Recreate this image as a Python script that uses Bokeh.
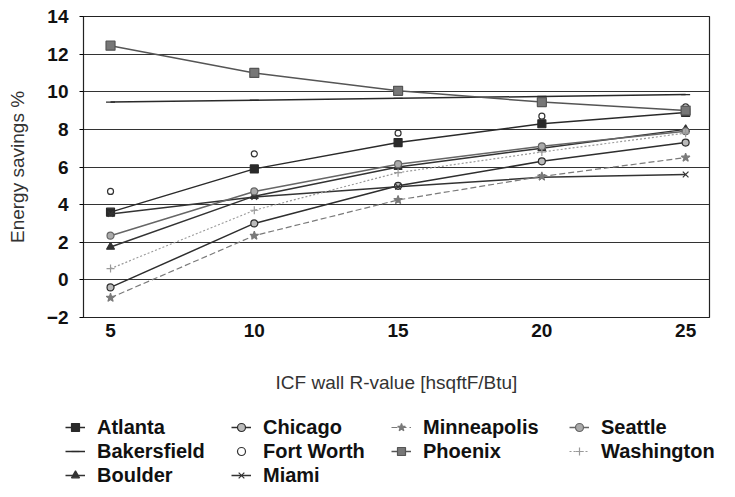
import numpy as np
from bokeh.plotting import figure
from bokeh.layouts import column, row
from bokeh.models import Legend, LegendItem, Range1d, FixedTicker
from bokeh.embed import file_html
from bokeh.resources import INLINE

r_values = [5, 10, 15, 20, 25]

atlanta = [3.6, 5.9, 7.3, 8.3, 8.9]
bakersfield = [9.45, 9.55, 9.65, 9.75, 9.85]
boulder = [1.75, 4.45, 6.0, 7.0, 8.0]
chicago = [-0.4, 3.0, 5.0, 6.3, 7.3]
fort_worth = [4.7, 6.7, 7.8, 8.7, 9.2]
miami = [3.5, 4.4, 4.95, 5.45, 5.6]
minneapolis = [-0.95, 2.35, 4.25, 5.5, 6.5]
phoenix = [12.45, 11.0, 10.05, 9.45, 9.0]
seattle = [2.35, 4.7, 6.15, 7.1, 7.9]
washington = [0.6, 3.7, 5.7, 6.8, 7.8]

y_ticks = [-2, 0, 2, 4, 6, 8, 10, 12, 14]
x_ticks = [5, 10, 15, 20, 25]

legend_columns = [["Atlanta", "Bakersfield", "Boulder"],
                  ["Chicago", "Fort Worth", "Miami"],
                  ["Minneapolis", "Phoenix"],
                  ["Seattle", "Washington"]]

FONT = "Liberation Sans"
W_LEFT, W_FRAME, W_RIGHT = 83, 626, 20

p = figure(frame_width=W_FRAME, frame_height=301, output_backend="svg", toolbar_location=None,
           x_range=Range1d(4.06, 25.83), y_range=Range1d(-2, 14),
           min_border_left=W_LEFT, min_border_right=W_RIGHT, min_border_top=16,
           min_border_bottom=90)
p.background_fill_color = "white"
p.border_fill_color = "white"
p.outline_line_color = "#222222"
p.outline_line_width = 1.2

p.xgrid.grid_line_color = None
p.ygrid.grid_line_color = "#333333"
p.ygrid.grid_line_width = 1.2
p.ygrid.ticker = FixedTicker(ticks=y_ticks)

p.xaxis.ticker = FixedTicker(ticks=x_ticks)
p.yaxis.ticker = FixedTicker(ticks=y_ticks)
p.xaxis.axis_line_color = None
p.xaxis.major_tick_line_color = None
p.xaxis.minor_tick_line_color = None
p.yaxis.axis_line_color = "#222222"
p.yaxis.major_tick_out = 4
p.yaxis.major_tick_in = 0
p.yaxis.minor_tick_line_color = None
for ax in (p.xaxis, p.yaxis):
    ax.major_label_text_font = FONT
    ax.major_label_text_font_style = "bold"
    ax.major_label_text_font_size = "19px"
    ax.major_label_text_color = "#111111"
    ax.axis_label_text_font = FONT
    ax.axis_label_text_font_style = "normal"
    ax.axis_label_text_font_size = "19px"
    ax.axis_label_text_color = "#333333"
p.xaxis.axis_label = "ICF wall R-value [hsqftF/Btu]"
p.yaxis.axis_label = "Energy savings %"
p.xaxis.major_label_standoff = 0
p.xaxis.axis_label_standoff = 32
p.yaxis.major_label_standoff = 11
p.yaxis.axis_label_standoff = 16

# legend figure below the chart (its glyphs lie outside its ranges, only the legend shows)
LH = 88
q = figure(frame_width=W_LEFT + W_FRAME + W_RIGHT, frame_height=LH, output_backend="svg",
           toolbar_location=None, x_range=Range1d(0, 1), y_range=Range1d(100, 101),
           min_border=0)
q.axis.visible = False
q.grid.grid_line_color = None
q.outline_line_color = None

styles = {
    "Atlanta": dict(color="#2a2a2a", marker="square", size=8),
    "Bakersfield": dict(color="#2a2a2a", marker="dash", size=9),
    "Boulder": dict(color="#333333", marker="triangle", size=8),
    "Chicago": dict(color="#2e2e2e", marker="circle", size=7, fill="#bbbbbb"),
    "Fort Worth": dict(color="#333333", marker="circle", size=6, fill="white", line=False),
    "Miami": dict(color="#333333", marker="x", size=8),
    "Minneapolis": dict(color="#7a7a7a", marker="star", size=9, dash="6 3", lw=1.2),
    "Phoenix": dict(color="#555555", marker="square", size=9, fill="#777777"),
    "Seattle": dict(color="#666666", marker="circle", size=7, fill="#aaaaaa"),
    "Washington": dict(color="#9a9a9a", marker="cross", size=8, dash="2 2", lw=1.2),
}
data = {"Atlanta": atlanta, "Bakersfield": bakersfield, "Boulder": boulder,
        "Chicago": chicago, "Fort Worth": fort_worth, "Miami": miami,
        "Minneapolis": minneapolis, "Phoenix": phoenix, "Seattle": seattle,
        "Washington": washington}

def draw(fig, xs, ys, st):
    rs = []
    if st.get("line", True):
        rs.append(fig.line(xs, ys, line_color=st["color"], line_width=st.get("lw", 1.5),
                           line_dash=st.get("dash", "solid")))
    rs.append(fig.scatter(xs, ys, marker=st["marker"], size=st["size"], line_color=st["color"],
                          fill_color=st.get("fill", st["color"]), line_width=1.2))
    return rs

legend_renderers = {}
for name, ys in data.items():
    draw(p, r_values, ys, styles[name])
    legend_renderers[name] = draw(q, r_values, ys, styles[name])

col_x = [65, 231, 391, 569]
ROW_H, SPACING, TOP = 24, 0, 8
for cx, names in zip(col_x, legend_columns):
    n = len(names)
    h = n * ROW_H + (n - 1) * SPACING
    lg = Legend(items=[LegendItem(label=nm, renderers=legend_renderers[nm]) for nm in names],
                orientation="vertical",
                label_text_font=FONT, label_text_font_style="bold",
                label_text_font_size="20px", label_text_color="#111111",
                glyph_width=20, glyph_height=ROW_H, label_height=ROW_H, label_standoff=12,
                spacing=SPACING, padding=0, margin=0,
                border_line_color=None, background_fill_alpha=0,
                location=(cx, LH - TOP - h))
    q.add_layout(lg)

open("out.html", "w").write(file_html(column(p, row(q)), INLINE))
